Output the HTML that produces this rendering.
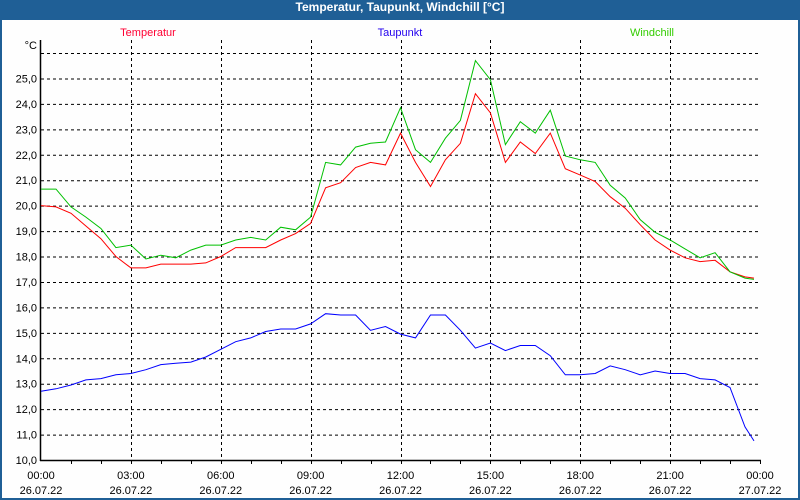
<!DOCTYPE html>
<html><head><meta charset="utf-8"><style>
html,body{margin:0;padding:0;background:#fff}
#wrap{position:relative;width:796px;height:478px;border:2px solid #1f5f96;border-top:20px solid #1f5f96;background:#fefefe}
#title{position:absolute;left:0;top:0;width:800px;height:20px;line-height:20px;text-align:center;color:#fff;font:bold 12px "Liberation Sans",sans-serif}
svg{position:absolute;left:0;top:0}
text{font-family:"Liberation Sans",sans-serif;font-size:11px}
</style></head><body>
<div id="wrap"></div>
<div id="title">Temperatur, Taupunkt, Windchill [°C]</div>
<svg id="chart" width="800" height="500"></svg>
<script>
const times=[0,0.5,1,1.5,2,2.5,3,3.5,4,4.5,5,5.5,6,6.5,7,7.5,8,8.5,9,9.5,10,10.5,11,11.5,12,12.5,13,13.5,14,14.5,15,15.5,16,16.5,17,17.5,18,18.5,19,19.5,20,20.5,21,21.5,22,22.5,23,23.5,23.8];
const temperatur=[20.0,19.95,19.7,19.2,18.7,18.0,17.55,17.55,17.7,17.7,17.7,17.75,18.0,18.35,18.35,18.35,18.65,18.9,19.3,20.7,20.9,21.5,21.7,21.6,22.85,21.7,20.75,21.8,22.45,24.4,23.65,21.7,22.5,22.05,22.85,21.45,21.2,20.95,20.35,19.9,19.25,18.65,18.25,17.95,17.8,17.85,17.4,17.2,17.15];
const taupunkt=[12.7,12.8,12.95,13.15,13.2,13.35,13.4,13.55,13.75,13.8,13.85,14.05,14.35,14.65,14.8,15.05,15.15,15.15,15.35,15.75,15.7,15.7,15.1,15.25,14.95,14.8,15.7,15.7,15.1,14.4,14.6,14.3,14.5,14.5,14.1,13.35,13.35,13.4,13.7,13.55,13.35,13.5,13.4,13.4,13.2,13.15,12.85,11.3,10.75];
const windchill=[20.65,20.65,19.95,19.55,19.1,18.35,18.45,17.9,18.05,17.95,18.25,18.45,18.45,18.65,18.75,18.65,19.15,19.05,19.55,21.7,21.6,22.3,22.45,22.5,23.85,22.2,21.7,22.65,23.35,25.7,24.95,22.4,23.3,22.85,23.75,21.95,21.8,21.7,20.8,20.3,19.45,18.95,18.65,18.3,17.95,18.15,17.4,17.15,17.1];
const yTicks=[10,11,12,13,14,15,16,17,18,19,20,21,22,23,24,25];
const yTickLabels=["10,0","11,0","12,0","13,0","14,0","15,0","16,0","17,0","18,0","19,0","20,0","21,0","22,0","23,0","24,0","25,0"];
const xTicks=[0,3,6,9,12,15,18,21,24];
const xTimeLabels=["00:00","03:00","06:00","09:00","12:00","15:00","18:00","21:00","00:00"];
const xDateLabels=["26.07.22","26.07.22","26.07.22","26.07.22","26.07.22","26.07.22","26.07.22","26.07.22","27.07.22"];

const X0=41,X1=760,Y0=460,Ytop=53,VMIN=10,VMAX=26;
const xs=h=>X0+(X1-X0)*h/24;
const ys=v=>Y0-(Y0-Ytop)*(v-VMIN)/(VMAX-VMIN);
const svg=document.getElementById('chart');
const NS='http://www.w3.org/2000/svg';
function mk(tag,attrs){const e=document.createElementNS(NS,tag);for(const k in attrs)e.setAttribute(k,attrs[k]);svg.appendChild(e);return e;}

// horizontal grid
for(let v=11;v<=26;v++){
  const g=mk('line',{x1:X0,x2:X1,y1:ys(v)+0.5,y2:ys(v)+0.5,stroke:'#000','stroke-dasharray':'3,3','stroke-width':1});
  
  
}
// vertical grid
for(let i=1;i<xTicks.length-1;i++){
  const x=Math.round(xs(xTicks[i]))+0.5;
  const g=mk('line',{x1:x,x2:x,y1:40,y2:Y0,stroke:'#000','stroke-dasharray':'3,3','stroke-width':1});
  
  
}
// axes
const ya=mk('line',{x1:X0-0.5,x2:X0-0.5,y1:40,y2:Y0+1,stroke:'#000','stroke-width':1.5});


const xa=mk('line',{x1:X0-1,x2:X1+1,y1:Y0+0.5,y2:Y0+0.5,stroke:'#000','stroke-width':1.5});


for(let h=1;h<=24;h++){
  const x=Math.round(xs(h))+0.5;
  const t=mk('line',{x1:x,x2:x,y1:Y0,y2:Y0+4,stroke:'#000','stroke-width':1});
  
  
}
// y labels
yTicks.forEach((v,i)=>{
  const t=mk('text',{x:37,y:ys(v)+4,'text-anchor':'end',fill:'#000'});
  t.textContent=yTickLabels[i];
  
  
});
const u=mk('text',{x:37,y:49,'text-anchor':'end',fill:'#000'});
u.textContent='°C';


// x labels
xTicks.forEach((h,i)=>{
  const a=mk('text',{x:xs(h),y:479,'text-anchor':'middle',fill:'#000'});
  a.textContent=xTimeLabels[i];
  
  
  const b=mk('text',{x:xs(h),y:494,'text-anchor':'middle',fill:'#000'});
  b.textContent=xDateLabels[i];
  
  
});
// series
function series(vals,color,name){
  const p=mk('polyline',{points:vals.map((v,i)=>xs(times[i]).toFixed(1)+','+ys(v).toFixed(1)).join(' '),fill:'none',stroke:color,'stroke-width':1});
  
  
}
series(taupunkt,'#0000ff','taupunkt-line');
series(temperatur,'#ff0000','temperatur-line');
series(windchill,'#00c000','windchill-line');
// legend
[['Temperatur','#ff0033',148,'legend-temperatur'],['Taupunkt','#2200ee',400,'legend-taupunkt'],['Windchill','#33cc00',652,'legend-windchill']].forEach(l=>{
  const t=mk('text',{x:l[2],y:36,'text-anchor':'middle',fill:l[1]});
  t.textContent=l[0];
  
  
});
</script>
</body></html>
